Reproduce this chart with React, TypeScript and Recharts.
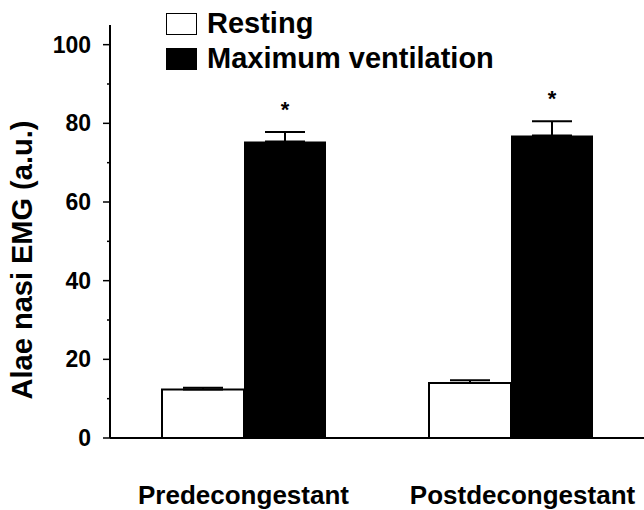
import React from "react";
import {
  BarChart,
  Bar,
  XAxis,
  YAxis,
  ErrorBar,
  LabelList,
  Legend,
  Label,
} from "recharts";

const categories = ["Predecongestant", "Postdecongestant"];
const restingValues = [12.3, 14.0];
const restingErrors = [0.5, 0.7];
const maxValues = [75.4, 76.9];
const maxErrors = [2.4, 3.6];
const significance = ["*", "*"];
const yTicks = [0, 10, 20, 30, 40, 50, 60, 70, 80, 90, 100];

const data = categories.map((name, i) => ({
  name,
  resting: restingValues[i],
  restingErr: [0, restingErrors[i]],
  max: maxValues[i],
  maxErr: [0, maxErrors[i]],
  sig: significance[i],
}));

const FONT = "'Liberation Sans', Arial, Helvetica, sans-serif";

function YTick(props: any) {
  const { x, y, payload } = props;
  const major = payload.value % 20 === 0;
  return (
    <g>
      <line x1={x - (major ? 7 : 3)} x2={x} y1={y} y2={y} stroke="#000" strokeWidth={1.5} />
      {major && (
        <text
          x={x - 19}
          y={y}
          textAnchor="end"
          dominantBaseline="central"
          fontFamily={FONT}
          fontWeight="bold"
          fontSize={23}
          fill="#000"
        >
          {payload.value}
        </text>
      )}
    </g>
  );
}

function XTick(props: any) {
  const { x, y, payload, index } = props;
  return (
    <text
      x={x + (index === 1 ? 12 : 0)}
      y={y + 66}
      textAnchor="middle"
      fontFamily={FONT}
      fontWeight="bold"
      fontSize={26}
      fill="#000"
    >
      {payload.value}
    </text>
  );
}

function StarLabel(props: any) {
  const { x, y, width, height, index } = props;
  const d = data[index];
  const pxPerUnit = height / d.max;
  const top = y - d.maxErr[1] * pxPerUnit;
  return (
    <text
      x={x + width / 2}
      y={top - 15}
      textAnchor="middle"
      fontFamily={FONT}
      fontWeight="bold"
      fontSize={22}
      fill="#000"
    >
      {d.sig}
    </text>
  );
}

function LegendBox() {
  const row = (fill: string, text: string) => (
    <div style={{ display: "flex", alignItems: "center", height: 35 }}>
      <div
        style={{
          width: 29,
          height: 20,
          background: fill,
          border: "1px solid #000",
          marginRight: 10,
        }}
      />
      <span
        style={{
          fontFamily: FONT,
          fontWeight: "bold",
          fontSize: 29,
          color: "#000",
          lineHeight: "29px",
          whiteSpace: "nowrap",
        }}
      >
        {text}
      </span>
    </div>
  );
  return (
    <div>
      {row("#fff", "Resting")}
      {row("#000", "Maximum ventilation")}
    </div>
  );
}

export default function App() {
  return (
    <div style={{ position: "absolute", left: 0, top: 0, width: 644, height: 510, background: "#fff" }}>
      <BarChart
        width={644}
        height={510}
        data={data}
        margin={{ top: 25, right: 0, bottom: 0, left: 0 }}
        barCategoryGap={52}
        barGap={0}
      >
        <XAxis
          dataKey="name"
          height={72}
          tickLine={false}
          tickSize={0}
          tickMargin={0}
          axisLine={{ stroke: "#000", strokeWidth: 2 }}
          tick={<XTick />}
          interval={0}
        />
        <YAxis
          width={110}
          domain={[0, 105]}
          ticks={yTicks}
          interval={0}
          tickLine={false}
          tickSize={0}
          tickMargin={0}
          axisLine={{ stroke: "#000", strokeWidth: 2 }}
          tick={<YTick />}
        >
          <Label
            content={() => (
              <text
                x={22}
                y={260}
                transform="rotate(-90, 22, 260)"
                textAnchor="middle"
                dominantBaseline="central"
                fontFamily={FONT}
                fontWeight="bold"
                fontSize={29}
                fill="#000"
              >
                Alae nasi EMG (a.u.)
              </text>
            )}
          />
        </YAxis>
        <Legend
          layout="horizontal"
          verticalAlign="middle"
          align="center"
          content={<LegendBox />}
          wrapperStyle={{ position: "absolute", top: 6, left: 166, width: 400 }}
        />
        <Bar
          dataKey="resting"
          name="Resting"
          fill="#fff"
          stroke="#000"
          strokeWidth={2}
          isAnimationActive={false}
        >
          <ErrorBar dataKey="restingErr" width={20} stroke="#000" strokeWidth={2} />
        </Bar>
        <Bar dataKey="max" name="Maximum ventilation" fill="#000" isAnimationActive={false}>
          <ErrorBar dataKey="maxErr" width={20} stroke="#000" strokeWidth={2} />
          <LabelList dataKey="sig" content={<StarLabel />} />
        </Bar>
      </BarChart>
    </div>
  );
}
